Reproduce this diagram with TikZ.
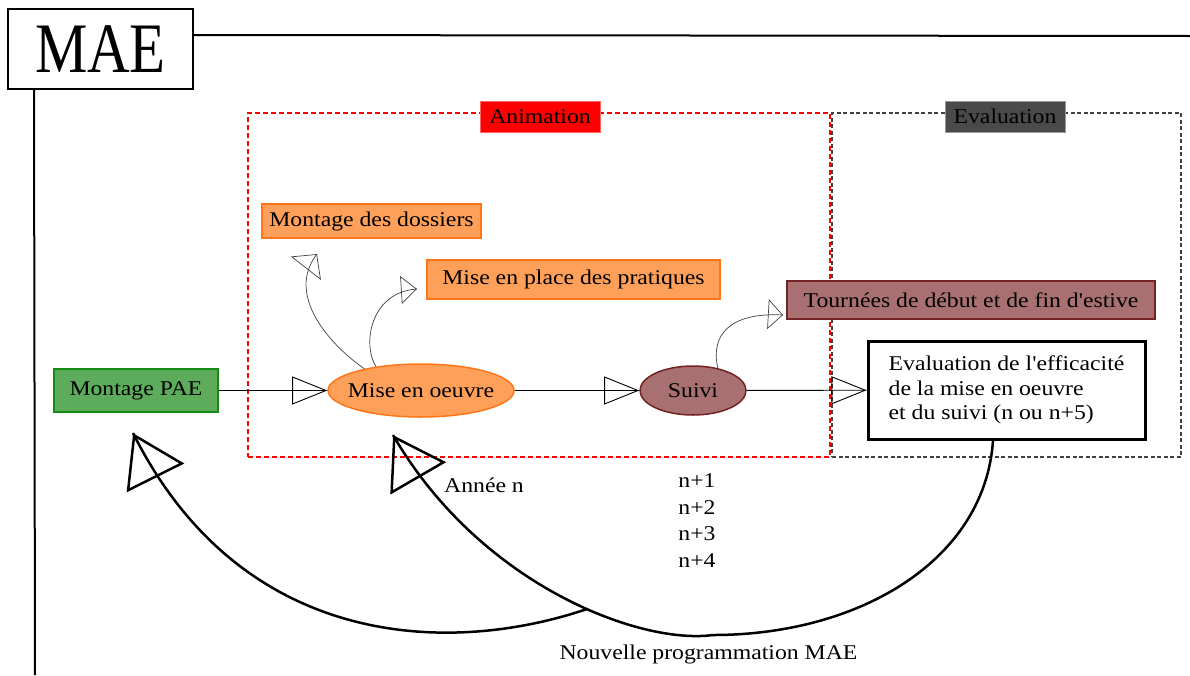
\documentclass[tikz,border=0pt]{standalone}
\usepackage{fontspec}
\setmainfont{Liberation Serif}[FakeStretch=1.13, Ligatures=TeXOff]
\newfontfamily\maefont{Liberation Serif}[FakeStretch=0.83]
\usetikzlibrary{arrows.meta, shapes.geometric, decorations.markings}
\definecolor{orfill}{RGB}{255,160,90}
\definecolor{orline}{RGB}{255,117,25}
\definecolor{grfill}{RGB}{92,172,92}
\definecolor{grline}{RGB}{20,140,20}
\definecolor{brfill}{RGB}{168,112,112}
\definecolor{brline}{RGB}{115,35,35}
\definecolor{evgray}{RGB}{74,74,74}
\begin{document}
\begin{tikzpicture}[x=1pt,y=-1pt,
  every node/.style={font=\fontsize{21}{24.5}\selectfont, inner sep=0pt},
  maebox/.style={draw, line width=2pt, minimum width=185pt, minimum height=80pt, font=\maefont\fontsize{71}{71}\selectfont},
  frameline/.style={line width=2pt},
  animframe/.style={draw=red, line width=2pt, dash pattern=on 5pt off 3pt, minimum width=582pt, minimum height=344pt},
  evalframe/.style={draw=black!75, line width=1.3pt, dash pattern=on 4pt off 2.5pt, minimum width=349pt, minimum height=344pt},
  tag/.style={minimum width=120pt, minimum height=31pt, line width=0.6pt},
  orbox/.style={fill=orfill, draw=orline, line width=1.5pt},
  brbox/.style={fill=brfill, draw=brline, line width=1.5pt},
  grbox/.style={fill=grfill, draw=grline, line width=1.5pt},
  ell/.style={ellipse, line width=1.5pt, inner xsep=-30pt},
  evalbox/.style={draw, line width=3pt, minimum width=277pt, minimum height=98pt, align=left},
  endtip/.style n args={3}{postaction={decorate}, decoration={markings,
      mark=at position 0.9995 with {\arrow[line width=#3]{Triangle[open, length=#1, width=#2]}}}},
  harrow/.style={line width=0.9pt, endtip={35pt}{28pt}{0.9pt}},
  sarrowA/.style={line width=0.7pt, draw=black!75, endtip={18pt}{38pt}{0.7pt}},
  sarrowB/.style={line width=0.7pt, draw=black!75, endtip={16pt}{28pt}{0.7pt}},
  sarrowC/.style={line width=0.7pt, draw=black!75, endtip={15pt}{30pt}{0.7pt}},
  bigline/.style={line width=2.5pt},
  bigarrow/.style={line width=2.5pt, endtip={50pt}{64pt}{2.5pt}}
]
\useasboundingbox (0,0) rectangle (1190,675);

% frame lines
\node[maebox] (mae) at (100.5,49) {MAE};
\coordinate (topend) at (1190,36);
\coordinate (bottomend) at (35,675);
\draw[frameline] ([yshift=-27pt]mae.north east) -- (topend);
\draw[frameline] ([xshift=27pt]mae.south west) -- (bottomend);

% phase frames
\node[evalframe] (evalframe) at (1006.5,285) {};
\node[animframe] (animframe) at (539,285) {};
\node[tag, fill=red, draw=red!60] (animtag) at (540,116.5) {Animation};
\node[tag, fill=evgray, draw=black!40] (evaltag) at (1005,116.5) {Evaluation};

% boxes
\node[orbox, minimum width=219pt, minimum height=34pt] (dossiers) at (371.5,221) {Montage des dossiers};
\node[orbox, minimum width=293pt, minimum height=39pt] (pratiques) at (573.5,279.5) {Mise en place des pratiques};
\node[brbox, minimum width=368pt, minimum height=38pt] (tournees) at (971,300) {Tournées de début et de fin d'estive};
\node[grbox, minimum width=164pt, minimum height=43pt] (pae) at (136,390.5) {Montage PAE};
\node[ell, fill=orfill, draw=orline, minimum width=186pt, minimum height=53pt] (mise) at (421,390.5) {Mise en oeuvre};
\node[ell, fill=brfill, draw=brline, minimum width=106pt, minimum height=49pt] (suivi) at (693,390.5) {Suivi};
\node[evalbox] (eval) at (1006.5,390) {Evaluation de l'efficacité\\de la mise en oeuvre\\et du suivi (n ou n+5)};

% texts
\node (annee) at (484,485) {Année n};
\node[align=left, font=\fontsize{21}{26.8}\selectfont] (years) at (697,520.5) {n+1\\n+2\\n+3\\n+4};
\node (nouvelle) at (708.5,654) {Nouvelle programmation MAE};

% horizontal arrows
\draw[harrow] (pae) -- (mise);
\draw[harrow] (mise) -- (suivi);
\draw[harrow] (suivi) -- (eval);

% small curved arrows
\coordinate (tipA) at (317,254);
\coordinate (tipB) at (417,289);
\coordinate (tipC) at (783,315);
\draw[sarrowA] (mise.159) .. controls (330,345) and (285,295) .. (tipA);
\draw[sarrowB] (mise.152) .. controls (362,345) and (370,292) .. (tipB);
\draw[sarrowC] (suivi.42) .. controls (710,335) and (730,312) .. (tipC);

% big return curves
\coordinate (tip1) at (133,433);
\coordinate (tip2) at (393,435);
\draw[bigline] ([xshift=-13.5pt]eval.south) .. controls (985,560) and (860,635) .. (713,635) coordinate (low);
\draw[bigarrow] (low) .. controls (640,645) and (480,585) .. node[coordinate, pos=0.42] (junc) {} (tip2);
\draw[bigarrow] (junc) .. controls (445,657) and (240,647) .. (tip1);
\end{tikzpicture}
\end{document}
